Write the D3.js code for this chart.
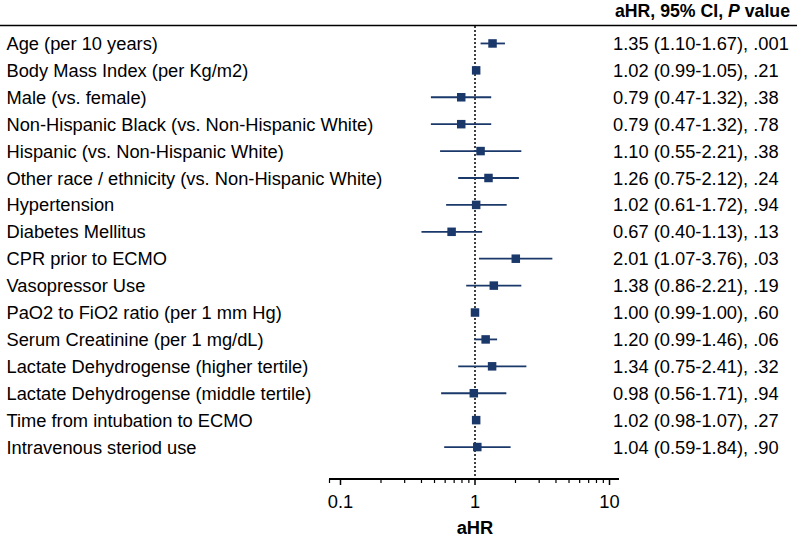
<!DOCTYPE html>
<html><head><meta charset="utf-8">
<script src="https://cdn.jsdelivr.net/npm/d3@7"></script>
<style>body{margin:0;background:#fff}svg{display:block}text{font-family:"Liberation Sans",Arial,sans-serif}</style>
</head><body>
<svg id="c" width="797" height="539"></svg>
<script>
const labels = ["Age (per 10 years)","Body Mass Index (per Kg/m2)","Male (vs. female)","Non-Hispanic Black (vs. Non-Hispanic White)","Hispanic (vs. Non-Hispanic White)","Other race / ethnicity (vs. Non-Hispanic White)","Hypertension","Diabetes Mellitus","CPR prior to ECMO","Vasopressor Use","PaO2 to FiO2 ratio (per 1 mm Hg)","Serum Creatinine (per 1 mg/dL)","Lactate Dehydrogense (higher tertile)","Lactate Dehydrogense (middle tertile)","Time from intubation to ECMO","Intravenous steriod use"];
const hr = [1.35,1.02,0.79,0.79,1.10,1.26,1.02,0.67,2.01,1.38,1.00,1.20,1.34,0.98,1.02,1.04];
const lo = [1.10,0.99,0.47,0.47,0.55,0.75,0.61,0.40,1.07,0.86,0.99,0.99,0.75,0.56,0.98,0.59];
const hi = [1.67,1.05,1.32,1.32,2.21,2.12,1.72,1.13,3.76,2.21,1.00,1.46,2.41,1.71,1.07,1.84];
const pv = [".001",".21",".38",".78",".38",".24",".94",".13",".03",".19",".60",".06",".32",".94",".27",".90"];
const tickVals = [0.1,1,10];
const tickLabels = ["0.1","1","10"];
const minorTicks = [0.2,0.3,0.4,0.5,0.6,0.7,0.8,0.9,2,3,4,5,6,7,8,9];

const svg = d3.select("#c");
const navy = "#1b386a";
const fs = 18.3;
const x = d3.scaleLog().domain([0.1,10]).range([340.5,609.5]);
const y = d3.scaleBand().domain(d3.range(labels.length)).range([30, 460.5]);
const yc = i => y(i) + y.bandwidth()/2;
const axisY = 479;
const fmt = d3.format(".2f");

// header
svg.append("line").attr("x1",0).attr("x2",797).attr("y1",25.5).attr("y2",25.5).attr("stroke","#000").attr("stroke-width",1.3);
const hdr = svg.append("text").attr("x",790).attr("y",17).attr("text-anchor","end").attr("font-size",17.7).attr("font-weight","bold");
hdr.append("tspan").text("aHR, 95% CI, ");
hdr.append("tspan").attr("font-style","italic").text("P");
hdr.append("tspan").text(" value");

// reference line
svg.append("line").attr("x1",x(1)).attr("x2",x(1)).attr("y1",26).attr("y2",axisY)
  .attr("stroke","#000").attr("stroke-width",1.5).attr("stroke-dasharray","2,2");

// axis
const ax = svg.append("g");
ax.append("line").attr("x1",329).attr("x2",619).attr("y1",axisY).attr("y2",axisY).attr("stroke","#000").attr("stroke-width",2);
ax.append("line").attr("x1",329.5).attr("x2",329.5).attr("y1",axisY).attr("y2",axisY+4).attr("stroke","#000").attr("stroke-width",1.2);
ax.selectAll(".mj").data(tickVals).join("line").attr("x1",d=>x(d)).attr("x2",d=>x(d)).attr("y1",axisY).attr("y2",axisY+6).attr("stroke","#000").attr("stroke-width",1.5);
ax.selectAll(".mn").data(minorTicks).join("line").attr("x1",d=>x(d)).attr("x2",d=>x(d)).attr("y1",axisY).attr("y2",axisY+4).attr("stroke","#000").attr("stroke-width",1.2);
ax.selectAll(".tl").data(tickVals).join("text").attr("x",d=>x(d)).attr("y",507.5).attr("text-anchor","middle").attr("font-size",fs).text((d,i)=>tickLabels[i]);
svg.append("text").attr("x",x(1)).attr("y",534).attr("text-anchor","middle").attr("font-size",fs).attr("font-weight","bold").text("aHR");

// rows
const rows = svg.selectAll(".row").data(labels).join("g");
rows.append("text").attr("x",6.5).attr("y",(d,i)=>yc(i)).attr("dy","0.36em").attr("font-size",fs).text(d=>d);
rows.append("line").attr("x1",(d,i)=>x(lo[i])).attr("x2",(d,i)=>x(hi[i])).attr("y1",(d,i)=>yc(i)).attr("y2",(d,i)=>yc(i)).attr("stroke",navy).attr("stroke-width",1.8);
const ms = 8.5;
rows.append("rect").attr("x",(d,i)=>x(hr[i])-ms/2).attr("y",(d,i)=>yc(i)-ms/2).attr("width",ms).attr("height",ms).attr("fill",navy);
rows.append("text").attr("x",613).attr("y",(d,i)=>yc(i)).attr("dy","0.36em").attr("font-size",fs)
  .text((d,i)=>`${fmt(hr[i])} (${fmt(lo[i])}-${fmt(hi[i])}), ${pv[i]}`);
</script>
</body></html>
